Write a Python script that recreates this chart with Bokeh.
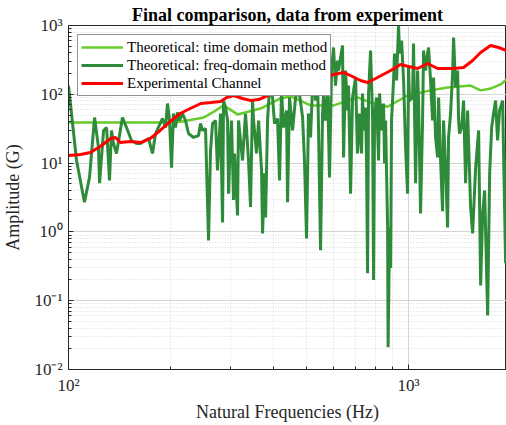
from bokeh.plotting import figure
from bokeh.models import FixedTicker, Legend, LegendItem, CustomJSTickFormatter
from bokeh.embed import file_html
from bokeh.resources import INLINE

# Theoretical: time domain method
time_freq = [100, 124, 152, 183, 214, 250, 271, 286, 314, 367, 420, 450, 515, 602,
             653, 708, 773, 868, 993, 1161, 1302, 1522, 1629, 1743, 1865, 1942]
time_amp = [39, 39, 39, 39, 40, 46, 58, 69, 51, 62, 87, 93, 69, 69,
            79, 90, 76, 66, 96, 114, 126, 134, 114, 121, 139, 164]

# Theoretical: freq-domain method
fd_freq = [100, 105.6, 111.4, 115.3, 119.3, 122.5, 123.4, 126.8, 129.4, 132.0,
           133.8, 135.6, 138.4, 144.1, 148.1, 153.2, 158.5, 162.8, 171.9, 176.6,
           180.3, 189.0, 192.9, 195.5, 198.2, 200.9, 203.6, 206.4, 209.2, 212.1,
           216.4, 220.8, 225.4, 233.2, 241.2, 244.5, 247.9, 252.9, 258.1, 261.6,
           265.2, 270.6, 274.3, 280.0, 283.8, 285.7, 289.6, 293.6, 295.6, 297.6,
           301.6, 305.7, 307.8, 314.1, 316.2, 324.9, 331.6, 338.4, 343.0, 347.7,
           350.1, 357.3, 362.2, 369.6, 372.1, 377.2, 379.8, 384.9, 390.2, 398.1,
           403.5, 411.8, 417.4, 423.1, 428.9, 437.7, 440.7, 446.7, 455.9, 465.3,
           474.9, 488.0, 494.6, 501.2, 508.0, 514.9, 521.9, 525.5, 532.7, 540.0,
           543.7, 551.1, 558.6, 562.3, 570.0, 577.8, 585.6, 593.6, 601.7, 609.9,
           618.2, 622.4, 639.5, 643.9, 652.6, 661.6, 666.1, 675.2, 684.4, 698.5,
           707.9, 717.6, 727.4, 732.3, 737.3, 747.4, 752.5, 757.6, 762.8, 773.2,
           783.8, 789.1, 794.3, 805.2, 816.2, 821.7, 832.9, 844.3, 850.1, 856.0,
           867.7, 870.7, 879.6, 885.6, 891.3, 903.4, 909.6, 922.0, 934.6, 941.0,
           953.8, 966.9, 980.0, 993.4, 1000, 1006.8, 1027.5, 1034.4, 1048.6, 1062.9,
           1070.0, 1084.6, 1099.5, 1107.0, 1122.0, 1137.4, 1145.1, 1160.7, 1176.6, 1184.6,
           1200.8, 1217.2, 1225.5, 1242.2, 1258.9, 1267.5, 1284.8, 1302.4, 1311.2, 1329.2,
           1347.4, 1356.5, 1375.1, 1393.9, 1403.4, 1412.5, 1432.0, 1451.6, 1471.5, 1491.6,
           1522.3, 1543.1, 1574.9, 1607.2, 1629.1, 1651.4, 1673.9, 1708.3, 1731.7, 1755.4,
           1778.3, 1802.6, 1827.2, 1852.2, 1890.4, 1929.2, 1955.7]
fd_amp = [134, 10.9, 2.7, 6.2, 46.0, 16.9, 5.1, 29.8, 32.9, 5.6,
          29.8, 19.3, 13.8, 46.0, 32.9, 21.3, 19.3, 19.3, 22.8, 13.8,
          26.9, 44.5, 32.9, 73.5, 41.6, 8.6, 52.6, 32.9, 54.4, 41.6,
          52.6, 41.6, 26.9, 23.6, 25.2, 37.6, 29.8, 31.8, 0.75, 15.2,
          37.6, 41.6, 7.8, 52.6, 1.37, 81, 64.3, 41.6, 3.6, 9.9,
          41.6, 2.9, 13.8, 1.73, 41.6, 10.9, 52.6, 10.9, 2.3, 81,
          41.6, 13.8, 41.6, 7.8, 0.95, 7.1, 1.62, 41.6, 126, 90,
          37.6, 44.5, 5.6, 114, 32.9, 58.1, 2.7, 90, 29.8, 90,
          126, 46.0, 9.9, 0.80, 52.6, 23.6, 126, 310, 81, 188,
          29.8, 0.54, 52.6, 96, 41.6, 126, 6.2, 222, 479, 134,
          310, 222, 512, 12.1, 222, 58.1, 134, 3.6, 90, 175,
          13.8, 52.6, 13.8, 103, 29.8, 64.3, 9.9, 0.25, 103, 433,
          46.0, 0.20, 49.2, 90, 10.9, 103, 29.8, 73.5, 9.9, 41.6,
          1.16, 0.021, 1.16, 0.30, 41.6, 159, 392, 159, 1000, 392,
          605, 159, 16.9, 3.6, 245, 81, 90, 547, 5.1, 222,
          81, 1.85, 41.6, 433, 222, 392, 479, 159, 41.6, 175,
          23.6, 12.1, 90, 10.9, 2.0, 41.6, 8.6, 1.16, 23.6, 52.6,
          201, 669, 126, 222, 41.6, 26.9, 32.9, 81, 5.1, 58.1,
          2.3, 0.95, 8.6, 29.8, 0.166, 1.85, 4.0, 0.061, 7.1, 32.9,
          52.6, 81, 21.3, 58.1, 81, 0.35, 58.1]

# Experimental Channel
exp_freq = [100, 108.5, 116, 124, 133, 137.5, 142, 152, 163, 174,
            186, 199, 213, 228, 245, 262, 280, 292, 306, 325,
            343, 362, 380, 398, 420, 450, 481, 515, 562, 602,
            644, 684, 722, 758, 800, 886, 947, 1000, 1063, 1137,
            1217, 1357, 1452, 1543, 1629, 1743, 1840, 1942]
exp_amp = [12.9, 13.3, 14.3, 17.4, 22.8, 23.6, 19.9, 20.6, 19.9, 22.8,
           29.8, 40.2, 52.6, 62.2, 73.5, 76.0, 78.6, 89.8, 96.1, 86.9,
           81.3, 84.0, 92.9, 102.7, 121.4, 134.3, 143.5, 158.7, 169.7, 194.0,
           207.5, 181.4, 158.7, 148.4, 169.7, 221.8, 271.1, 253.6, 237.1, 280.4,
           237.1, 237.1, 245.2, 309.9, 405.2, 512.2, 478.9, 433.1]

x_major = [100, 1000]
x_minor = [200, 300, 400, 500, 600, 700, 800, 900, 2000]
y_major = [0.01, 0.1, 1, 10, 100, 1000]
y_minor = [m * d for d in [0.01, 0.1, 1, 10, 100] for m in range(2, 10)]

labels = ["Theoretical: time domain method", "Theoretical: freq-domain method",
          "Experimental Channel"]
colors = ["#66cc2a", "#2e8b3a", "#ff0000"]

SERIF = "Liberation Serif"

p = figure(width=506, height=425, x_axis_type="log", y_axis_type="log",
           x_range=(100, 1941), y_range=(0.01, 1000),
           output_backend="svg", toolbar_location=None,
           min_border_left=68, min_border_right=0, min_border_top=25,
           min_border_bottom=56, background_fill_color="white",
           border_fill_color="white")

p.title.text = "Final comparison, data from experiment"
p.title.align = "center"
p.title.text_font = SERIF
p.title.text_font_size = "18px"
p.title.text_font_style = "bold"
p.title.text_color = "black"
p.title.standoff = 2
p.title.offset = 0

fmt = CustomJSTickFormatter(code="""
const e = Math.round(Math.log10(tick));
const m = {"-": "\u207b", "0": "\u2070", "1": "\u00b9", "2": "\u00b2", "3": "\u00b3",
           "4": "\u2074", "5": "\u2075"};
return "10" + String(e).split("").map(c => m[c]).join("");
""")

for ax, maj, mnr in [(p.xaxis[0], x_major, x_minor), (p.yaxis[0], y_major, y_minor)]:
    ax.ticker = FixedTicker(ticks=maj, minor_ticks=mnr)
    ax.formatter = fmt
    ax.major_label_text_font = SERIF
    ax.major_label_text_font_size = "17px"
    ax.major_label_text_color = "#262626"
    ax.axis_label_text_font = SERIF
    ax.axis_label_text_font_size = "18px"
    ax.axis_label_text_font_style = "normal"
    ax.axis_label_text_color = "#262626"
    ax.axis_line_color = "#262626"
    ax.major_tick_line_color = "#262626"
    ax.minor_tick_line_color = "#262626"
    ax.major_tick_in = 5
    ax.major_tick_out = 0
    ax.minor_tick_in = 3
    ax.minor_tick_out = 0
    ax.major_label_standoff = 6

p.xaxis.axis_label = "Natural Frequencies (Hz)"
p.yaxis.axis_label = "Amplitude (G)"
p.xaxis.axis_label_standoff = 4
p.yaxis.axis_label_standoff = 8

p.outline_line_color = "#262626"
for g in (p.xgrid[0], p.ygrid[0]):
    g.grid_line_color = "#d4d4d4"
    g.grid_line_width = 1
    g.minor_grid_line_color = "#d8d8d8"
    g.minor_grid_line_dash = "1 2"

r1 = p.line(time_freq, time_amp, line_color=colors[0], line_width=2.5)
r2 = p.line(fd_freq, fd_amp, line_color=colors[1], line_width=3)
r3 = p.line(exp_freq, exp_amp, line_color=colors[2], line_width=3)

legend = Legend(items=[LegendItem(label=labels[0], renderers=[r1]),
                       LegendItem(label=labels[1], renderers=[r2]),
                       LegendItem(label=labels[2], renderers=[r3])],
                location="top_left")
legend.margin = 9
legend.padding = 3
legend.spacing = 0
legend.glyph_width = 42
legend.glyph_height = 18
legend.label_height = 18
legend.label_standoff = 4
legend.label_text_font = SERIF
legend.label_text_font_size = "15px"
legend.label_text_color = "black"
legend.border_line_color = "#262626"
legend.border_line_width = 1
legend.background_fill_color = "white"
legend.background_fill_alpha = 1
p.add_layout(legend)

open("out.html", "w").write(file_html(p, INLINE))
